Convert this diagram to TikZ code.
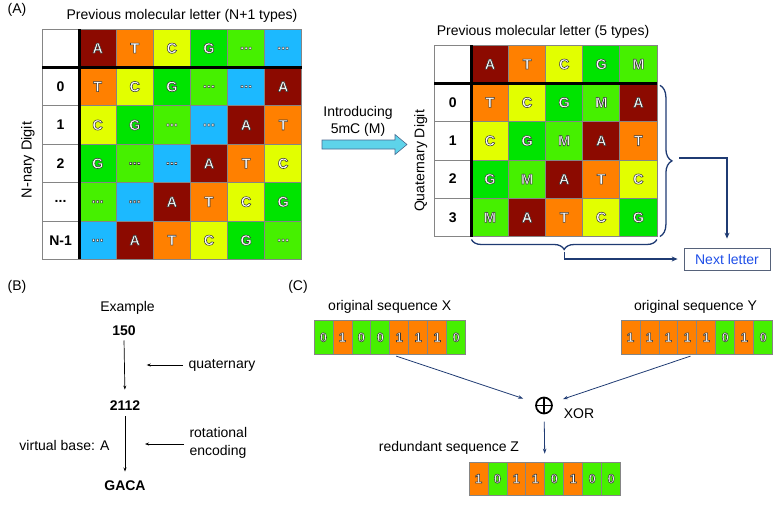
\documentclass[tikz,border=0pt]{standalone}
\usepackage{fontspec}
\setmainfont{Liberation Sans}
\usetikzlibrary{arrows.meta,decorations.pathreplacing,calc}
\definecolor{cA}{HTML}{8C0A00}
\definecolor{cT}{HTML}{FF8000}
\definecolor{cC}{HTML}{E2FF00}
\definecolor{cG}{HTML}{00E400}
\definecolor{cl}{HTML}{46F000}
\definecolor{cb}{HTML}{1CB9FF}
\colorlet{cM}{cl}
\colorlet{b0}{cl}
\colorlet{b1}{cT}
\definecolor{navy}{HTML}{1F3B73}
\definecolor{gridgray}{HTML}{858585}
\definecolor{arrowcyan}{HTML}{5ED3EA}
\definecolor{arrowedge}{HTML}{4A6A90}
\definecolor{nextblue}{HTML}{1F4FE8}
\definecolor{nextedge}{HTML}{56627A}
\def\labA{A}\def\labT{T}\def\labC{C}\def\labG{G}\def\labl{...}\def\labb{...}\def\labM{M}
\newcommand\olt[1]{\special{pdf:literal 2 Tr 0.55 w 0.22 0.22 0.22 RG}#1\special{pdf:literal 0 Tr}}
\begin{document}
\begin{tikzpicture}[x=1pt,y=-1pt, font=\fontsize{14}{16}\selectfont,
  cell/.style={draw=gridgray, line width=0.8pt, minimum width=37.1pt, minimum height=38.4pt, inner sep=0pt, outer sep=0pt, text=white, font=\fontsize{14.5}{16}\selectfont\bfseries},
  labcell/.style={cell, fill=white, text=black, font=\fontsize{14}{16}\selectfont\bfseries},
  bit/.style={draw=gridgray, line width=0.8pt, minimum width=18.96pt, minimum height=33.3pt, inner sep=0pt, outer sep=0pt, text=white, font=\fontsize{13}{15}\selectfont\bfseries},
  bnum/.style={font=\fontsize{14}{16}\selectfont\bfseries},
  thick line/.style={line width=3pt, black},
  barrow/.style={black, line width=0.7pt, -{Stealth[length=4pt,width=3pt]}},
  carrow/.style={navy, line width=0.8pt, -{Stealth[length=5pt,width=3.5pt]}},
  navyarrow/.style={navy, line width=1.3pt, -{Stealth[length=6pt,width=5pt]}},
  bracestyle/.style={navy, line width=1.3pt, decorate}
]
\useasboundingbox (0,0) rectangle (776,520);

% ---------- panel labels
\node (pA) at (17,10) {(A)};
\node (pB) at (17,287) {(B)};
\node (pC) at (298,287) {(C)};

% ---------- left table
\node (titleL) at (182,16) {Previous molecular letter (N+1 types)};
\node[rotate=90, font=\fontsize{14.5}{16}\selectfont] (ndig) at (28,160) {N-nary Digit};
\foreach \row [count=\r from 0] in {{A,T,C,G,l,b},{T,C,G,l,b,A},{C,G,l,b,A,T},{G,l,b,A,T,C},{l,b,A,T,C,G},{b,A,T,C,G,l}}{
  \foreach \c [count=\k from 1] in \row {
    \node[cell, fill=c\c] (L-\r-\k) at ({42+37.1*\k+18.55},{29+38.4*\r+19.2}) {\olt{\csname lab\c\endcsname}};
  }
}
\node[labcell] (L-0-0) at (60.55,48.2) {};
\node[labcell] (L-1-0) at (60.55,86.6) {0};
\node[labcell] (L-2-0) at (60.55,125.0) {1};
\node[labcell] (L-3-0) at (60.55,163.4) {2};
\node[labcell] (L-4-0) at (60.55,201.8) {...};
\node[labcell] (L-5-0) at (60.55,240.2) {N-1};
\draw[thick line] (L-0-0.north east) -- (L-5-0.south east);
\draw[thick line] (L-0-0.south west) -- (L-0-6.south east);

% ---------- block arrow
\draw[fill=arrowcyan, draw=arrowedge, line width=0.6pt] (322,140) -- (395,140) -- (395,134.5) -- (407,144.5) -- (395,154.5) -- (395,149) -- (322,149) -- cycle;
\node (intro1) at (358,113) {Introducing};
\node (intro2) at (358,130) {5mC (M)};

% ---------- right table
\node (titleR) at (543,32) {Previous molecular letter (5 types)};
\node[rotate=90] (qdig) at (420.7,161) {Quaternary Digit};
\foreach \row [count=\r from 0] in {{A,T,C,G,M},{T,C,G,M,A},{C,G,M,A,T},{G,M,A,T,C},{M,A,T,C,G}}{
  \foreach \c [count=\k from 1] in \row {
    \node[cell, minimum height=38.3pt, fill=c\c] (R-\r-\k) at ({434.3+37.1*\k+18.55},{45+38.3*\r+19.15}) {\olt{\csname lab\c\endcsname}};
  }
}
\node[labcell, minimum height=38.3pt] (R-0-0) at (452.85,64.15) {};
\node[labcell, minimum height=38.3pt] (R-1-0) at (452.85,102.45) {0};
\node[labcell, minimum height=38.3pt] (R-2-0) at (452.85,140.75) {1};
\node[labcell, minimum height=38.3pt] (R-3-0) at (452.85,179.05) {2};
\node[labcell, minimum height=38.3pt] (R-4-0) at (452.85,217.35) {3};
\draw[thick line] (R-0-0.north east) -- (R-4-0.south east);
\draw[thick line] (R-0-0.south west) -- (R-0-5.south east);

% braces
\draw[bracestyle, decoration={brace, amplitude=12pt}] ($(R-1-5.north east)+(3,2)$) -- ($(R-4-5.south east)+(3,0)$);
\draw[bracestyle, decoration={brace, amplitude=10pt}] ($(R-4-5.south east)+(0,3)$) -- ($(R-4-1.south west)+(0,3)$);
\coordinate (rtip) at (679,158);
\coordinate (btip) at ($(R-4-1.south west)!0.5!(R-4-5.south east)+(0,15)$);

\node[draw=nextedge, line width=0.8pt, minimum width=86pt, minimum height=22pt, inner sep=0pt, text=nextblue] (next) at (727,259) {Next letter};
\draw[navyarrow, shorten >=9pt] (rtip) -| (next.north);
\draw[navyarrow, shorten >=6pt] (btip) |- (next.west);

% ---------- panel B
\node (ex) at (127.5,308) {Example};
\node[bnum] (n150) at (124,331) {150};
\node[bnum] (n2112) at (125,406) {2112};
\node[bnum] (gaca) at (125,486) {GACA};
\draw[barrow, shorten <=1pt, shorten >=8pt] (n150.south) -- (n2112.north);
\draw[barrow, shorten <=2pt, shorten >=6pt] (n2112.south) -- (gaca.north);
\node[anchor=west] (quat) at (185,365) {quaternary};
\coordinate (qend) at (146.7,365);
\draw[barrow, shorten <=2pt] (quat.west) -- (qend);
\node[anchor=west, align=left, font=\fontsize{14}{18}\selectfont] (rot) at (186,443) {rotational\\encoding};
\coordinate (rend) at (145,444);
\draw[barrow, shorten <=2pt] (rot.west |- rend) -- (rend);
\node (vb) at (64.5,445) {virtual base: A};

% ---------- panel C
\node (labX) at (389.7,306.7) {original sequence X};
\node (labY) at (695.5,306.7) {original sequence Y};
\node (labZ) at (449,448.3) {redundant sequence Z};
\foreach \v [count=\k from 0] in {0,1,0,0,1,1,1,0}
  \node[bit, fill=b\v] (X\k) at ({314+18.96*\k+9.48},337.3) {\olt{\v}};
\foreach \v [count=\k from 0] in {1,1,1,1,1,0,1,0}
  \node[bit, fill=b\v] (Y\k) at ({621+18.96*\k+9.48},337.3) {\olt{\v}};
\foreach \v [count=\k from 0] in {1,0,1,1,0,1,0,0}
  \node[bit, fill=b\v] (Z\k) at ({469+18.96*\k+9.48},478.7) {\olt{\v}};
\node[circle, draw=black, line width=1.7pt, minimum size=16pt, inner sep=0pt,
      path picture={\draw[black, line width=1.7pt] (path picture bounding box.north) -- (path picture bounding box.south) (path picture bounding box.west) -- (path picture bounding box.east);}] (xor) at (544,405.5) {};
\node (xorlab) at (579,413.3) {XOR};
\draw[carrow, shorten <=6.7pt, shorten >=22pt] (X3.south east) -- (xor.center);
\draw[carrow, shorten <=6.7pt, shorten >=20pt] (Y3.south east) -- (xor.center);
\draw[carrow, shorten <=16pt, shorten >=8.4pt] (xor.center) -- (Z3.north east);
\end{tikzpicture}
\end{document}
